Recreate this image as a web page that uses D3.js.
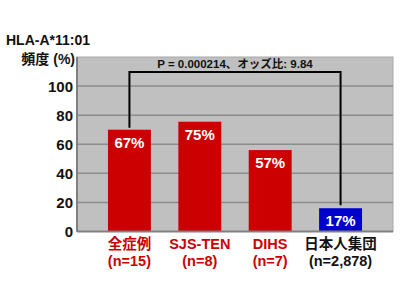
<!DOCTYPE html>
<html>
<head>
<meta charset="utf-8">
<script src="https://cdn.jsdelivr.net/npm/d3@7"></script>
<style>
body { margin: 0; background: #fff; }
text { font-family: "Liberation Sans", Arial, "Noto Sans CJK JP", sans-serif; font-weight: bold; }
</style>
</head>
<body>
<svg width="400" height="300"></svg>
<script>
var groups = ["全症例", "SJS-TEN", "DIHS", "日本人集団"];
var counts = ["(n=15)", "(n=8)", "(n=7)", "(n=2,878)"];
var heights = [70, 75.5, 56, 16];
var labels = ["67%", "75%", "57%", "17%"];
var yTicks = [0, 20, 40, 60, 80, 100];
var pText = "P = 0.000214、オッズ比: 9.84";

var svg = d3.select("svg");
var plotL = 77, plotR = 393, plotT = 57, plotB = 231.5;

var x = d3.scaleBand().domain(groups).range([plotL, plotR])
  .paddingInner(0.39).paddingOuter(0.44);
var y = d3.scaleLinear().domain([0, 120]).range([plotB, plotT]);

// plot background
svg.append("rect")
  .attr("x", plotL).attr("y", plotT)
  .attr("width", plotR - plotL).attr("height", plotB - plotT)
  .attr("fill", "#c0c0c0")
  .attr("stroke", "#a8a8a8");

// gridlines
svg.append("g").selectAll("line")
  .data(yTicks.filter(d => d > 0))
  .enter().append("line")
  .attr("x1", plotL).attr("x2", plotR)
  .attr("y1", d => y(d)).attr("y2", d => y(d))
  .attr("stroke", "#8c8c8c").attr("stroke-width", 1.5);

// bars
var colorOf = (d, i) => i == 3 ? "#0000cc" : "#cc0000";
svg.append("g").selectAll("rect")
  .data(groups)
  .enter().append("rect")
  .attr("x", d => x(d))
  .attr("y", (d, i) => y(heights[i]))
  .attr("width", x.bandwidth())
  .attr("height", (d, i) => plotB - y(heights[i]))
  .attr("fill", colorOf);

// axes lines
svg.append("line").attr("x1", plotL).attr("x2", plotL).attr("y1", plotT).attr("y2", plotB)
  .attr("stroke", "#808080").attr("stroke-width", 2);
svg.append("line").attr("x1", plotL).attr("x2", plotR).attr("y1", plotB).attr("y2", plotB)
  .attr("stroke", "#808080").attr("stroke-width", 2);

// y tick labels
svg.append("g").selectAll("text")
  .data(yTicks)
  .enter().append("text")
  .attr("x", 73).attr("y", d => y(d) + 5.5)
  .attr("text-anchor", "end")
  .attr("font-size", 15)
  .attr("fill", "#111")
  .text(d => d);

// y title
svg.append("text").attr("x", 6).attr("y", 45)
  .attr("font-size", 14).attr("fill", "#111").text("HLA-A*11:01");
svg.append("text").attr("x", 75).attr("y", 64).attr("text-anchor", "end")
  .attr("font-size", 14).attr("fill", "#111").text("頻度 (%)");

// bar labels
svg.append("g").selectAll("text")
  .data(groups)
  .enter().append("text")
  .attr("x", d => x(d) + x.bandwidth() / 2)
  .attr("y", (d, i) => y(heights[i]) + 18)
  .attr("text-anchor", "middle")
  .attr("font-size", 15)
  .attr("fill", "#fff")
  .text((d, i) => labels[i]);

// x labels
var xl = svg.append("g").selectAll("g")
  .data(groups)
  .enter().append("g");
xl.append("text")
  .attr("x", d => x(d) + x.bandwidth() / 2)
  .attr("y", 248.5)
  .attr("text-anchor", "middle")
  .attr("font-size", 14.5)
  .attr("fill", (d, i) => i == 3 ? "#111" : "#cc0000")
  .text(d => d);
xl.append("text")
  .attr("x", d => x(d) + x.bandwidth() / 2)
  .attr("y", 265.5)
  .attr("text-anchor", "middle")
  .attr("font-size", 14.5)
  .attr("fill", (d, i) => i == 3 ? "#111" : "#cc0000")
  .text((d, i) => counts[i]);

// significance bracket
var x1 = x(groups[0]) + x.bandwidth() / 2, x2 = x(groups[3]) + x.bandwidth() / 2;
var yb = 72;
svg.append("path")
  .attr("d", "M" + x1 + "," + (y(heights[0]) - 2) + "V" + yb + "H" + x2 + "V" + (y(heights[3]) - 3))
  .attr("fill", "none").attr("stroke", "#000").attr("stroke-width", 2);
svg.append("text")
  .attr("x", 235).attr("y", 68)
  .attr("text-anchor", "middle")
  .attr("font-size", 11.5)
  .attr("fill", "#111")
  .text(pText);
</script>
</body>
</html>
